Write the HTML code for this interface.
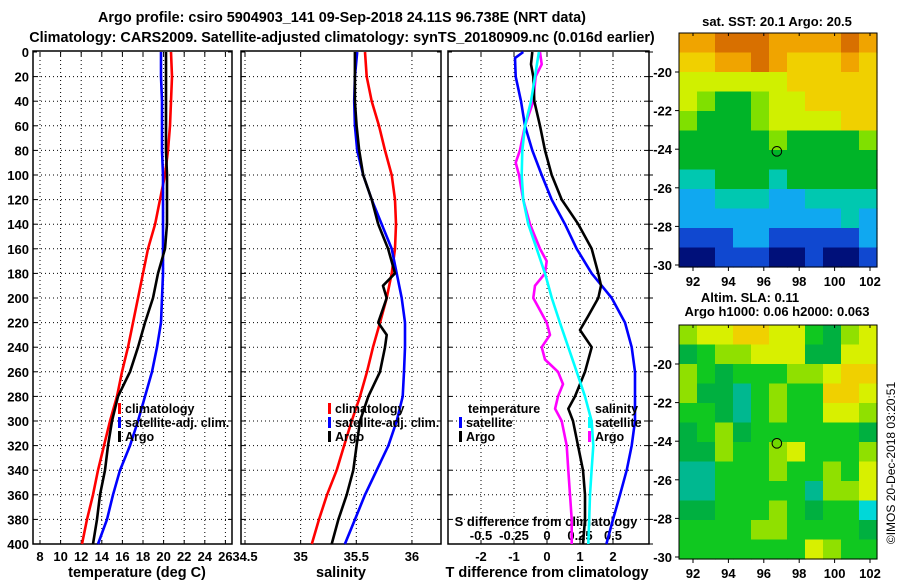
<!DOCTYPE html>
<html><head><meta charset="utf-8">
<style>
html,body{margin:0;padding:0;background:#fff;}
svg{display:block;font-family:"Liberation Sans",sans-serif;font-weight:bold;}
text{fill:#000;}
</style></head>
<body>
<svg id="fig" width="900" height="580" viewBox="0 0 900 580" xmlns="http://www.w3.org/2000/svg">
<text x="342" y="22" font-size="14.4" text-anchor="middle">Argo profile: csiro 5904903_141 09-Sep-2018 24.11S 96.738E (NRT data)</text>
<text x="342" y="42" font-size="14.4" text-anchor="middle">Climatology: CARS2009. Satellite-adjusted climatology: synTS_20180909.nc (0.016d earlier)</text>
<text x="137" y="577" font-size="14.5" text-anchor="middle">temperature (deg C)</text>
<text x="341" y="577" font-size="14.5" text-anchor="middle">salinity</text>
<text x="547" y="577" font-size="14.5" text-anchor="middle">T difference from climatology</text>
<text x="546" y="526" font-size="13" text-anchor="middle">S difference from climatology</text>
<text x="777" y="26" font-size="13" text-anchor="middle">sat. SST: 20.1 Argo: 20.5</text>
<text x="750" y="302" font-size="13" text-anchor="middle">Altim. SLA: 0.11</text>
<text x="777" y="316" font-size="13" text-anchor="middle">Argo h1000: 0.06 h2000: 0.063</text>
<text x="0" y="0" font-size="12" text-anchor="middle" font-weight="normal" transform="translate(895,463) rotate(-90)">©IMOS 20-Dec-2018 03:20:51</text>
</svg>
<script>
// ---- Panel 1: temperature ----
const depthTClim = [0,20,40,60,80,100,120,140,160,180,200,220,240,260,280,300,320,340,360,380,400];
const tempClim = [20.72,20.82,20.72,20.62,20.43,20.14,19.65,19.17,18.49,18.0,17.51,17.03,16.54,15.96,15.48,14.8,14.21,13.63,13.15,12.56,12.08];
const depthTSat = [0,20,40,60,80,100,120,140,160,180,200,220,240,260,280,300,320,340,360,380,400];
const tempSat = [19.75,19.75,19.84,19.84,19.84,19.94,19.94,19.94,19.94,19.94,19.84,19.75,19.36,18.87,18.19,17.51,16.74,15.77,15.09,14.5,13.63];
const depthTArgo = [0,20,40,60,80,100,120,140,160,180,200,220,240,260,280,300,320,340,360,380,400];
const tempArgo = [20.23,20.23,20.23,20.23,20.23,20.33,20.33,20.33,20.14,19.46,18.97,18.19,17.51,16.74,15.57,14.99,14.6,14.31,13.83,13.53,13.15];
const tempTicks = [8,10,12,14,16,18,20,22,24,26];
const depthTicks = [0,20,40,60,80,100,120,140,160,180,200,220,240,260,280,300,320,340,360,380,400];
// ---- Panel 2: salinity ----
const depthSClim = [0,20,40,60,80,100,120,140,160,180,200,220,240,260,280,300,320,340,360,380,400];
const salClim = [35.578,35.593,35.638,35.704,35.758,35.818,35.848,35.857,35.848,35.818,35.773,35.713,35.650,35.596,35.533,35.459,35.39,35.324,35.237,35.165,35.10];
const depthSSat = [0,20,40,60,80,100,120,140,160,180,200,220,240,260,280,300,320,340,360,380,400];
const salSat = [35.508,35.487,35.481,35.487,35.508,35.562,35.638,35.728,35.818,35.863,35.908,35.938,35.938,35.929,35.917,35.863,35.788,35.683,35.578,35.488,35.398];
const depthSArgo = [0,20,40,60,80,100,120,140,160,180,190,200,220,230,240,260,280,300,320,340,360,380,400];
const salArgo = [35.487,35.487,35.487,35.503,35.526,35.562,35.638,35.697,35.786,35.848,35.74,35.773,35.697,35.773,35.758,35.713,35.608,35.533,35.503,35.473,35.414,35.339,35.279];
const salTicks = [34.5,35,35.5,36];
const salTickLabels = ["34.5","35","35.5","36"];
// ---- Panel 3: differences ----
const depthDTSat = [0,5,20,40,60,80,100,120,140,160,180,190,200,220,240,260,280,300,320,340,360,380,400];
const dTSat = [-0.718,-0.97,-0.949,-0.788,-0.667,-0.445,-0.16,0.142,0.545,0.899,1.354,1.657,1.96,2.364,2.567,2.667,2.667,2.667,2.567,2.415,2.212,2.0,1.8];
const depthDTArgo = [0,10,20,40,60,80,100,120,140,160,180,190,200,215,226,240,260,280,290,300,320,340,360,380,400];
const dTArgo = [-0.445,-0.485,-0.415,-0.385,-0.212,-0.061,0.142,0.445,0.948,1.354,1.554,1.636,1.554,1.242,1.0,1.354,1.152,0.848,0.645,0.788,0.939,1.091,1.152,1.152,1.091];
const depthDSSat = [0,20,40,60,80,100,120,140,160,180,200,220,240,260,280,300,320,340,360,380,400];
const dSSat = [-0.061,-0.091,-0.121,-0.167,-0.187,-0.192,-0.180,-0.142,-0.078,-0.015,0.036,0.098,0.161,0.225,0.288,0.338,0.351,0.338,0.326,0.320,0.313];
const depthDSArgo = [0,10,20,40,60,80,90,100,120,140,160,170,180,190,200,210,220,230,240,250,260,270,280,290,300,320,340,360,380,400];
const dSArgo = [-0.053,-0.040,-0.086,-0.104,-0.167,-0.205,-0.237,-0.212,-0.180,-0.129,-0.053,-0.002,-0.015,-0.091,-0.104,-0.053,-0.002,0.023,-0.040,-0.015,0.083,0.121,0.083,0.061,0.111,0.149,0.161,0.174,0.187,0.187];
const dTTicks = [-2,-1,0,1,2];
const dSTicks = [-0.5,-0.25,0,0.25,0.5];
const dSTickLabels = ["-0.5","-0.25","0","0.25","0.5"];
// ---- Maps ----
const lonTicks = [92,94,96,98,100,102];
const latTicks = [-20,-22,-24,-26,-28,-30];
const argoLon = 96.738;
const argoLat = -24.11;
const sstGrid = [
[8,8,9,9,9,8,8,8,8,9,8],
[7,7,8,8,9,8,7,7,7,8,7],
[6,6,6,6,6,6,7,7,7,7,7],
[6,5,4,4,5,6,6,7,7,7,7],
[5,4,4,4,5,6,6,6,6,7,7],
[4,4,4,4,4,5,4,4,4,4,5],
[4,4,4,4,4,4,4,4,4,4,4],
[3,3,4,4,4,3,4,4,4,4,4],
[2,2,3,3,3,2,2,3,3,3,3],
[2,2,2,2,2,2,2,2,2,3,2],
[1,1,1,2,2,1,1,1,1,1,2],
[0,0,1,1,1,0,0,1,0,0,1]];
const slaGrid = [
[4,5,5,6,6,5,5,3,2,4,5],
[2,3,4,4,5,5,5,2,2,5,5],
[4,3,2,3,3,3,4,4,5,6,6],
[4,2,2,1,3,4,3,3,6,6,5],
[3,3,2,1,3,4,3,3,5,5,4],
[2,3,4,2,3,3,3,3,3,3,2],
[2,2,4,3,3,4,5,3,3,3,4],
[1,1,3,3,3,4,3,3,4,3,5],
[1,1,3,3,3,3,3,1,4,4,5],
[2,2,3,3,3,4,3,2,3,3,0],
[3,3,3,3,4,4,3,3,3,3,2],
[3,3,3,3,3,3,3,5,4,3,3]];

const NS = "http://www.w3.org/2000/svg";
const svg = document.getElementById('fig');
function mk(tag, attrs, parent){ const e=document.createElementNS(NS,tag); for(const k in attrs) e.setAttribute(k,attrs[k]); (parent||svg).appendChild(e); return e; }

const Y0=52, Y1=544;
const yD = d => Y0 + d*(Y1-Y0)/400;
const xT = t => 40 + (t-8)*10.3;
const xS = s => 245 + (s-34.5)*111.3;
const xdT = v => 547 + v*33;
const xdS = v => 547 + v*132;

const panels = [{x0:33,x1:232,name:'temperature-panel'},{x0:241,x1:441,name:'salinity-panel'},{x0:448,x1:649,name:'difference-panel'}];

function panelFrame(p, vgrid, pi){
  const g = mk('g',{});
  
  
  depthTicks.forEach(d=>{
    const y=yD(d);
    if(d>0 && d<400){ const l=mk('line',{x1:p.x0,x2:p.x1,y1:y,y2:y,stroke:'#000','stroke-width':1,'stroke-dasharray':'1,3'},g);
        }
    mk('line',{x1:p.x0,x2:p.x0+4,y1:y,y2:y,stroke:'#000','stroke-width':1},g);
    mk('line',{x1:p.x1-4,x2:p.x1,y1:y,y2:y,stroke:'#000','stroke-width':1},g);
    if(pi===2){ mk('line',{x1:p.x1,x2:p.x1+4,y1:y,y2:y,stroke:'#000','stroke-width':1},g); }
  });
  vgrid.forEach(x=>{
    const l=mk('line',{x1:x,x2:x,y1:Y0,y2:Y1,stroke:'#000','stroke-width':1,'stroke-dasharray':'1,3'},g);
     
    mk('line',{x1:x,x2:x,y1:Y1,y2:Y1-4,stroke:'#000'},g);
    mk('line',{x1:x,x2:x,y1:Y0,y2:Y0+4,stroke:'#000'},g);
  });
  const r = mk('rect',{x:p.x0,y:Y0-1,width:p.x1-p.x0,height:Y1-Y0+1,fill:'none',stroke:'#000','stroke-width':1.5},g);
  
  
  return g;
}
panelFrame(panels[0], tempTicks.map(xT), 0);
panelFrame(panels[1], salTicks.map(xS), 1);
panelFrame(panels[2], dTTicks.map(xdT), 2);

depthTicks.forEach(d=>{
  const t=mk('text',{x:29,y:yD(d)+5,'font-size':13,'text-anchor':'end'});
  t.textContent=String(d);
  
  
});
tempTicks.forEach(v=>{
  const t=mk('text',{x:xT(v),y:561,'font-size':13,'text-anchor':'middle'}); t.textContent=String(v);
  
  
});
salTicks.forEach((v,i)=>{
  const t=mk('text',{x:xS(v),y:561,'font-size':13,'text-anchor':'middle'}); t.textContent=salTickLabels[i];
  
  
});
dTTicks.forEach(v=>{
  const t=mk('text',{x:xdT(v),y:561,'font-size':13,'text-anchor':'middle'}); t.textContent=String(v);
  
  
});
dSTicks.forEach((v,i)=>{
  const t=mk('text',{x:xdS(v),y:540,'font-size':13,'text-anchor':'middle'}); t.textContent=dSTickLabels[i];
  
  
});

function line(vals, depths, fx, color, name){
  const pts = vals.map((v,i)=>fx(v).toFixed(1)+','+yD(depths[i]).toFixed(1)).join(' ');
  const p = mk('polyline',{points:pts,fill:'none',stroke:color,'stroke-width':2.6,'stroke-linejoin':'round'});
  
  
}
line(tempClim, depthTClim, xT, '#ff0000', 'temperature-climatology-line');
line(tempSat, depthTSat, xT, '#0000ff', 'temperature-satellite-line');
line(tempArgo, depthTArgo, xT, '#000000', 'temperature-argo-line');
line(salClim, depthSClim, xS, '#ff0000', 'salinity-climatology-line');
line(salSat, depthSSat, xS, '#0000ff', 'salinity-satellite-line');
line(salArgo, depthSArgo, xS, '#000000', 'salinity-argo-line');
line(dSArgo, depthDSArgo, xdS, '#ff00ff', 's-difference-argo-line');
line(dTSat, depthDTSat, xdT, '#0000ff', 't-difference-satellite-line');
line(dTArgo, depthDTArgo, xdT, '#000000', 't-difference-argo-line');
line(dSSat, depthDSSat, xdS, '#00ffff', 's-difference-satellite-line');

function legendEntry(x,y,color,label){
  const g=mk('g',{});
  
  
  if(color) mk('rect',{x:x,y:y-10,width:3,height:11,fill:color},g);
  const t=mk('text',{x:x+7,y:y,'font-size':12.5},g); t.textContent=label;
}
legendEntry(118,413,'#ff0000','climatology');
legendEntry(118,427,'#0000ff','satellite-adj. clim.');
legendEntry(118,441,'#000000','Argo');
legendEntry(328,413,'#ff0000','climatology');
legendEntry(328,427,'#0000ff','satellite-adj. clim.');
legendEntry(328,441,'#000000','Argo');
legendEntry(461,413,null,'temperature');
legendEntry(459,427,'#0000ff','satellite');
legendEntry(459,441,'#000000','Argo');
legendEntry(588,413,null,'salinity');
legendEntry(588,427,'#00ffff','satellite');
legendEntry(588,441,'#ff00ff','Argo');

const sstColors = ['#00107a','#1048d0','#10a8f0','#00c8b0','#00b428','#80e000','#d0f000','#f0d000','#f0a400','#d87000'];
const slaColors = ['#00d8d8','#00b890','#00b040','#10c820','#90e000','#d8f000','#f0d000'];
const MX0=679, MX1=877;
const lonX = lon => 693 + (lon-92)*17.7;
function drawMap(top, grid, colors, name, circleFill, axisName){
  const bottom = top+234;
  const latY = lat => (top+39) + (-20-lat)*19.3;
  const g=mk('g',{});
  
  
  const cw=(MX1-MX0)/grid[0].length, ch=(bottom-top)/grid.length;
  grid.forEach((row,j)=>row.forEach((v,i)=>{
    const c=mk('rect',{x:(MX0+i*cw).toFixed(2),y:(top+j*ch).toFixed(2),width:(cw+0.6).toFixed(2),height:(ch+0.6).toFixed(2),fill:colors[v]},g);
    
    
  }));
  mk('rect',{x:MX0,y:top,width:MX1-MX0,height:bottom-top,fill:'none',stroke:'#000','stroke-width':1},g);
  latTicks.forEach(l=>{
    const y=latY(l);
    mk('line',{x1:MX0-4,x2:MX0,y1:y,y2:y,stroke:'#000'},g);
    const t=mk('text',{x:MX0-7,y:y+5,'font-size':13,'text-anchor':'end'},g); t.textContent=String(l);
    
    
  });
  lonTicks.forEach(l=>{
    const x=lonX(l);
    mk('line',{x1:x,x2:x,y1:bottom,y2:bottom+4,stroke:'#000'},g);
    mk('line',{x1:x,x2:x,y1:top,y2:top+3,stroke:'#000'},g);
    const t=mk('text',{x:x,y:bottom+19,'font-size':13,'text-anchor':'middle'},g); t.textContent=String(l);
    
    
  });
  const c=mk('circle',{cx:lonX(argoLon),cy:latY(argoLat),r:4.8,fill:circleFill,stroke:'#000','stroke-width':1},g);
  
  
}
drawMap(33, sstGrid, sstColors, 'sst-map', 'none', 'sst-map');
drawMap(325, slaGrid, slaColors, 'sla-map', '#70d800', 'sla-map');
</script>
</body></html>
